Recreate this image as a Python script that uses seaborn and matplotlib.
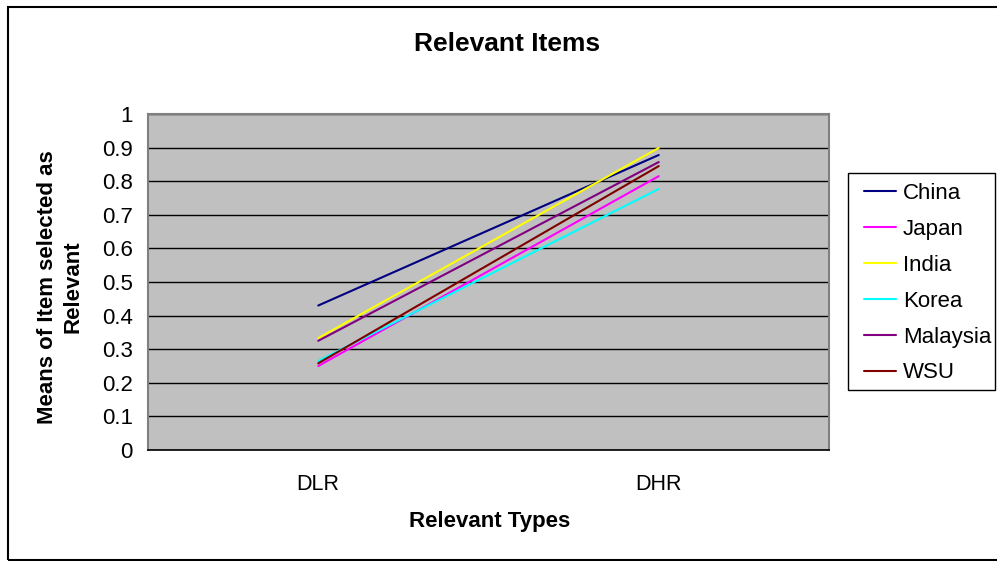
import numpy as np
import pandas as pd
import seaborn as sns
import matplotlib.pyplot as plt
from matplotlib.patches import Rectangle

# values
types = ['DLR', 'DHR']
countries = ['China', 'Japan', 'India', 'Korea', 'Malaysia', 'WSU']
dlr_means = [0.43, 0.25, 0.333, 0.265, 0.325, 0.258]
dhr_means = [0.878, 0.815, 0.899, 0.777, 0.857, 0.845]
line_colors = ['#000080', '#FF00FF', '#FFFF00', '#00FFFF', '#800080', '#800000']

df = pd.DataFrame({
    'country': countries * 2,
    'type': ['DLR'] * len(countries) + ['DHR'] * len(countries),
    'mean': dlr_means + dhr_means,
})
df['pos'] = df['type'].map({t: i for i, t in enumerate(types)})

sns.set_style('white')
plt.rcParams['font.family'] = ['Liberation Sans', 'DejaVu Sans']
plt.rcParams['text.color'] = 'black'
plt.rcParams['axes.labelcolor'] = 'black'
plt.rcParams['xtick.color'] = 'black'
plt.rcParams['ytick.color'] = 'black'

fig = plt.figure(figsize=(9.97, 5.61), dpi=100)
ax = fig.add_axes([148 / 997, 1 - 450 / 561, (829 - 148) / 997, (450 - 114) / 561])
ax.set_facecolor('#C0C0C0')

sns.lineplot(data=df, x='pos', y='mean', hue='country', hue_order=countries,
             palette=line_colors, linewidth=1.5, ax=ax, legend=False)

ax.set_xlim(-0.5, 1.5)
ax.set_ylim(0, 1)
ax.set_yticks(np.arange(0, 1.01, 0.1))
ax.set_yticklabels(['0'] + [f'{v:.1f}' for v in np.arange(0.1, 0.95, 0.1)] + ['1'], fontsize=16)
ax.yaxis.grid(True, color='black', linewidth=1)
ax.set_axisbelow(True)

ax.set_xticks([-0.5, 0.5, 1.5])
ax.set_xticklabels([])
ax.set_xticks([0, 1], minor=True)
ax.set_xticklabels(types, minor=True, fontsize=15.5)
ax.tick_params(axis='x', which='major', direction='out', length=5, width=1, color='black')
ax.tick_params(axis='x', which='minor', length=0, pad=17)
ax.tick_params(axis='y', direction='out', length=5, width=1, color='black', pad=6)

for side in ['top', 'right', 'left']:
    ax.spines[side].set_color('#808080')
    ax.spines[side].set_linewidth(1.5)
ax.spines['bottom'].set_color('black')
ax.spines['bottom'].set_linewidth(1.2)

ax.set_xlabel('')
ax.set_ylabel('')
fig.text(490 / 997, 1 - 521 / 561, 'Relevant Types', fontsize=16, fontweight='bold',
         ha='center', va='center')
fig.text(60 / 997, 1 - 287 / 561, 'Means of Item selected as\nRelevant', fontsize=16,
         fontweight='bold', rotation=90, ha='center', va='center', linespacing=1.25)
fig.text(507 / 997, 1 - 44 / 561, 'Relevant Items', fontsize=19, fontweight='bold',
         ha='center', va='center')

# legend without its own frame; the box is drawn separately
handles = [plt.Line2D([], [], color=c, linewidth=1.5) for c in line_colors]
fig.legend(handles, countries, loc='upper left',
           bbox_to_anchor=(864 / 997, 1 - 183 / 561), fontsize=16,
           frameon=False, handlelength=1.45, handletextpad=0.3,
           labelspacing=0.67, borderpad=0, borderaxespad=0)
fig.patches.append(Rectangle((848 / 997, 1 - 390 / 561), (995 - 848) / 997, (390 - 173) / 561,
                             transform=fig.transFigure, fill=False,
                             edgecolor='black', linewidth=1))

fig.patches.append(Rectangle((8 / 997, 1 / 561), 1.0, (560 - 7) / 561,
                             transform=fig.transFigure, fill=False,
                             edgecolor='black', linewidth=1.5))

fig.savefig('out.png', dpi=100)
